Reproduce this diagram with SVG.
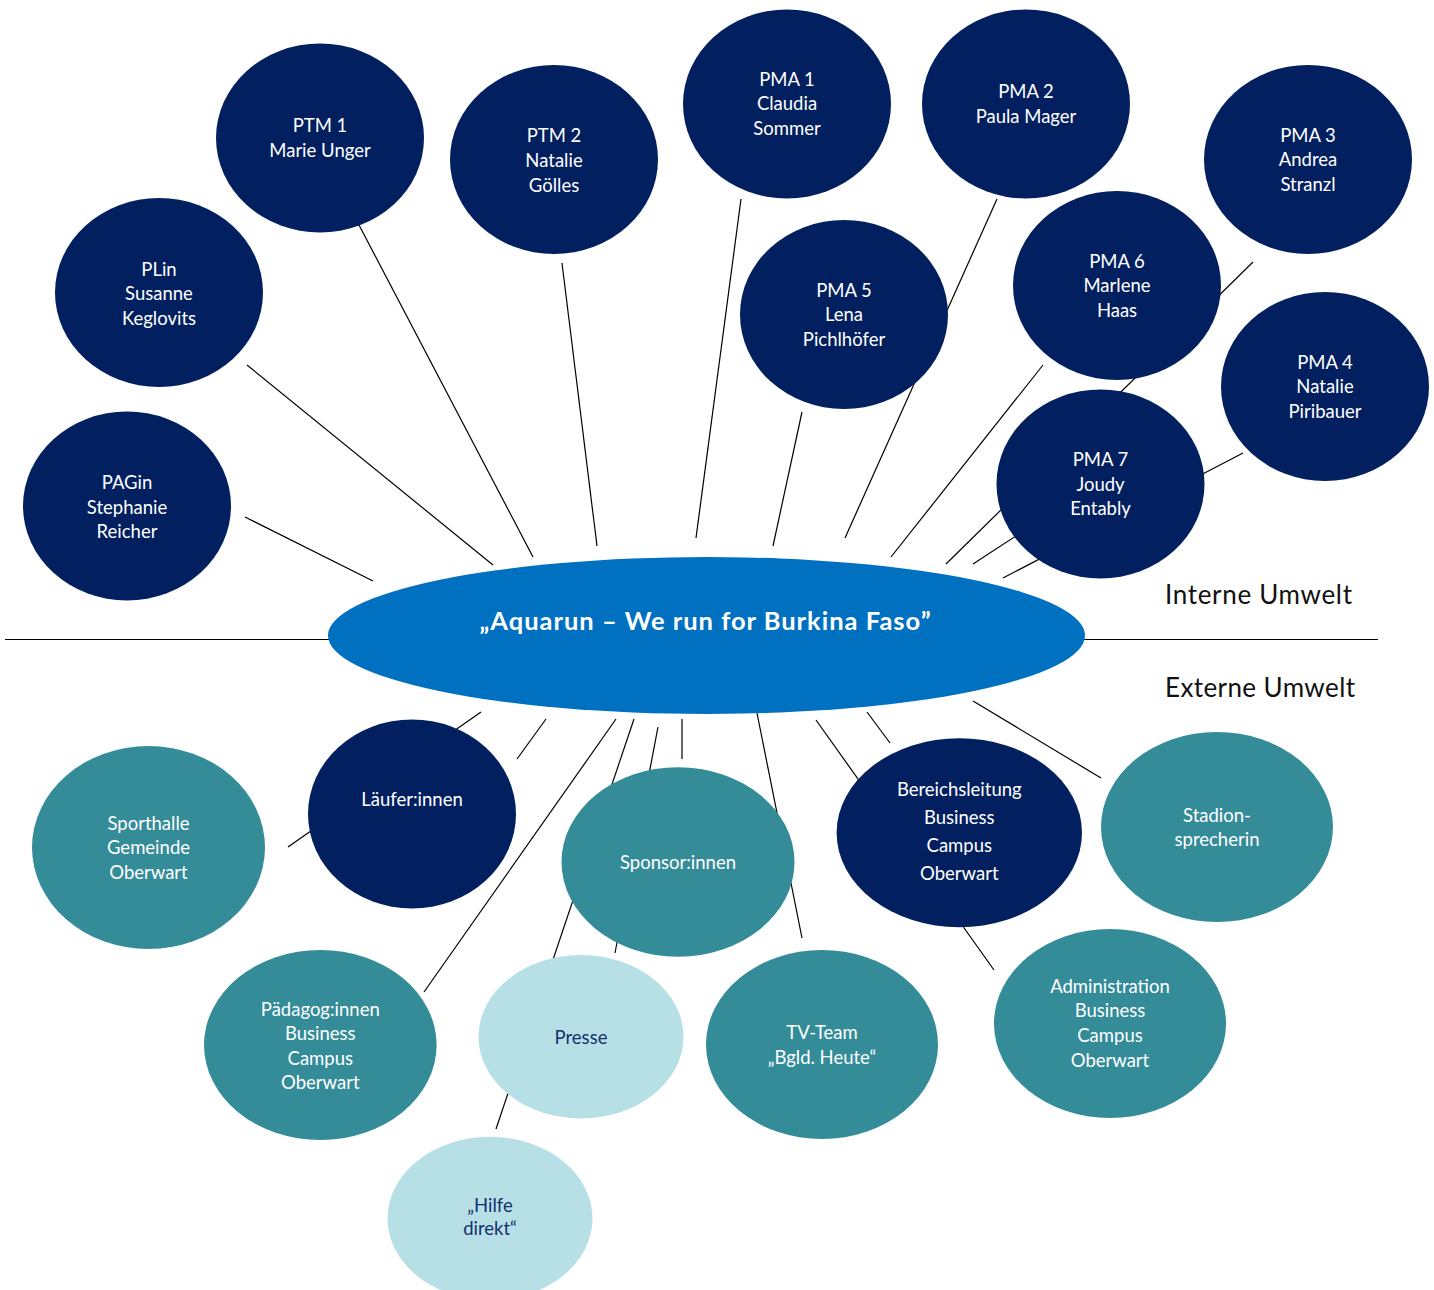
<svg xmlns="http://www.w3.org/2000/svg" width="1434" height="1290" viewBox="0 0 1434 1290">
<style>
.dark{fill:#022060}
.teal{fill:#348C99}
.light{fill:#B7E0E6}
.center{fill:#0070C0}
.t{font-family:Lato,"Liberation Sans",sans-serif;font-size:18.5px;text-anchor:middle;fill:#FFFFFF}
.tn{font-family:Lato,"Liberation Sans",sans-serif;font-size:18.5px;text-anchor:middle;fill:#14306E}
.title{font-family:Lato,"Liberation Sans",sans-serif;font-size:25.5px;font-weight:bold;text-anchor:middle;fill:#FFFFFF}
.side{font-family:Lato,"Liberation Sans",sans-serif;font-size:26px;fill:#111111}
.c line{stroke:#000;stroke-width:1.2}
</style>
<rect width="1434" height="1290" fill="#FFFFFF"/>
<g id="connectors" class="c">
<line x1="5" y1="639.5" x2="1378" y2="639.5" stroke-width="1.4"/>
<line x1="245" y1="517" x2="373" y2="581"/>
<line x1="247" y1="365" x2="493" y2="565"/>
<line x1="359" y1="225" x2="533" y2="557"/>
<line x1="562" y1="263" x2="597" y2="546"/>
<line x1="741" y1="199" x2="696" y2="538"/>
<line x1="802" y1="412" x2="773" y2="546"/>
<line x1="997" y1="199" x2="845" y2="538"/>
<line x1="1043" y1="365" x2="891" y2="557"/>
<line x1="1253" y1="262" x2="946" y2="564"/>
<line x1="1243" y1="453" x2="1003" y2="578"/>
<line x1="1022" y1="532" x2="973" y2="564"/>
<line x1="481" y1="712" x2="288" y2="847"/>
<line x1="546" y1="719" x2="517" y2="759"/>
<line x1="616" y1="719" x2="424" y2="992"/>
<line x1="634" y1="719" x2="496" y2="1129"/>
<line x1="658" y1="727" x2="615" y2="953"/>
<line x1="682" y1="719" x2="682" y2="759"/>
<line x1="757" y1="713" x2="802" y2="938"/>
<line x1="816" y1="720" x2="994" y2="970"/>
<line x1="867" y1="712" x2="890" y2="743"/>
<line x1="973" y1="701" x2="1101" y2="778"/>
</g>
<g id="aquarun">
<ellipse class="center" cx="706.5" cy="635.5" rx="378.5" ry="78.5"/>
<text class="title" x="705" y="630" textLength="451" lengthAdjust="spacing">„Aquarun – We run for Burkina Faso”</text>
</g>
<g id="labels">
<text class="side" x="1165" y="604" textLength="187" lengthAdjust="spacing">Interne Umwelt</text>
<text class="side" x="1165" y="697" textLength="190" lengthAdjust="spacing">Externe Umwelt</text>
</g>
<g id="pagin"><ellipse class="dark" cx="127" cy="506" rx="104" ry="94.5"/>
<text class="t" x="127" y="489">PAGin</text><text class="t" x="127" y="513.5">Stephanie</text><text class="t" x="127" y="538">Reicher</text></g>
<g id="plin"><ellipse class="dark" cx="159" cy="292.5" rx="104" ry="94.5"/>
<text class="t" x="159" y="276">PLin</text><text class="t" x="159" y="300">Susanne</text><text class="t" x="159" y="324.5">Keglovits</text></g>
<g id="ptm1"><ellipse class="dark" cx="320" cy="138" rx="104" ry="94.5"/>
<text class="t" x="320" y="132">PTM 1</text><text class="t" x="320" y="157">Marie Unger</text></g>
<g id="ptm2"><ellipse class="dark" cx="554" cy="159.5" rx="104" ry="94.5"/>
<text class="t" x="554" y="142">PTM 2</text><text class="t" x="554" y="167">Natalie</text><text class="t" x="554" y="191.5">Gölles</text></g>
<g id="pma1"><ellipse class="dark" cx="787" cy="104" rx="104" ry="94.5"/>
<text class="t" x="787" y="86">PMA 1</text><text class="t" x="787" y="110">Claudia</text><text class="t" x="787" y="134.5">Sommer</text></g>
<g id="pma2"><ellipse class="dark" cx="1026" cy="104" rx="104" ry="94.5"/>
<text class="t" x="1026" y="98">PMA 2</text><text class="t" x="1026" y="123">Paula Mager</text></g>
<g id="pma3"><ellipse class="dark" cx="1308" cy="159.5" rx="104" ry="94.5"/>
<text class="t" x="1308" y="142">PMA 3</text><text class="t" x="1308" y="166">Andrea</text><text class="t" x="1308" y="191">Stranzl</text></g>
<g id="pma5"><ellipse class="dark" cx="844" cy="314.5" rx="104" ry="94.5"/>
<text class="t" x="844" y="297">PMA 5</text><text class="t" x="844" y="321">Lena</text><text class="t" x="844" y="345.5">Pichlhöfer</text></g>
<g id="pma6"><ellipse class="dark" cx="1117" cy="285.5" rx="104" ry="94.5"/>
<text class="t" x="1117" y="268">PMA 6</text><text class="t" x="1117" y="292">Marlene</text><text class="t" x="1117" y="317">Haas</text></g>
<g id="pma4"><ellipse class="dark" cx="1325" cy="386.5" rx="104" ry="94.5"/>
<text class="t" x="1325" y="369">PMA 4</text><text class="t" x="1325" y="393">Natalie</text><text class="t" x="1325" y="418">Piribauer</text></g>
<g id="pma7"><ellipse class="dark" cx="1100.5" cy="484" rx="104" ry="94.5"/>
<text class="t" x="1100.5" y="466">PMA 7</text><text class="t" x="1100.5" y="490.5">Joudy</text><text class="t" x="1100.5" y="515">Entably</text></g>
<g id="laeufer"><ellipse class="dark" cx="412" cy="814" rx="104" ry="94.5"/>
<text class="t" x="412" y="806">Läufer:innen</text></g>
<g id="sporthalle"><ellipse class="teal" cx="148.5" cy="847.5" rx="116.5" ry="101.5"/>
<text class="t" x="148.5" y="830">Sporthalle</text><text class="t" x="148.5" y="854">Gemeinde</text><text class="t" x="148.5" y="879">Oberwart</text></g>
<g id="sponsor"><ellipse class="teal" cx="678" cy="862" rx="116.5" ry="94.7"/>
<text class="t" x="678" y="869">Sponsor:innen</text></g>
<g id="bereichsleitung"><ellipse class="dark" cx="959.3" cy="832.8" rx="122.7" ry="94.5"/>
<text class="t" x="959.3" y="796">Bereichsleitung</text><text class="t" x="959.3" y="823.5">Business</text><text class="t" x="959.3" y="851.5">Campus</text><text class="t" x="959.3" y="879.5">Oberwart</text></g>
<g id="stadion"><ellipse class="teal" cx="1217" cy="827" rx="116" ry="95"/>
<text class="t" x="1217" y="822">Stadion-</text><text class="t" x="1217" y="846">sprecherin</text></g>
<g id="paedagog"><ellipse class="teal" cx="320.3" cy="1045" rx="116.3" ry="95"/>
<text class="t" x="320.3" y="1016">Pädagog:innen</text><text class="t" x="320.3" y="1040">Business</text><text class="t" x="320.3" y="1064.5">Campus</text><text class="t" x="320.3" y="1089">Oberwart</text></g>
<g id="presse"><ellipse class="light" cx="581" cy="1036.7" rx="102.5" ry="81.7"/>
<text class="tn" x="581" y="1044">Presse</text></g>
<g id="tvteam"><ellipse class="teal" cx="822" cy="1044.5" rx="116" ry="94.5"/>
<text class="t" x="822" y="1039">TV-Team</text><text class="t" x="822" y="1064">„Bgld. Heute“</text></g>
<g id="administration"><ellipse class="teal" cx="1110" cy="1023.5" rx="116" ry="94.5"/>
<text class="t" x="1110" y="993">Administration</text><text class="t" x="1110" y="1017">Business</text><text class="t" x="1110" y="1042">Campus</text><text class="t" x="1110" y="1067">Oberwart</text></g>
<g id="hilfe"><ellipse class="light" cx="490" cy="1218.4" rx="102.5" ry="81.7"/>
<text class="tn" x="490" y="1211.5">„Hilfe</text><text class="tn" x="490" y="1235">direkt“</text></g>
</svg>
